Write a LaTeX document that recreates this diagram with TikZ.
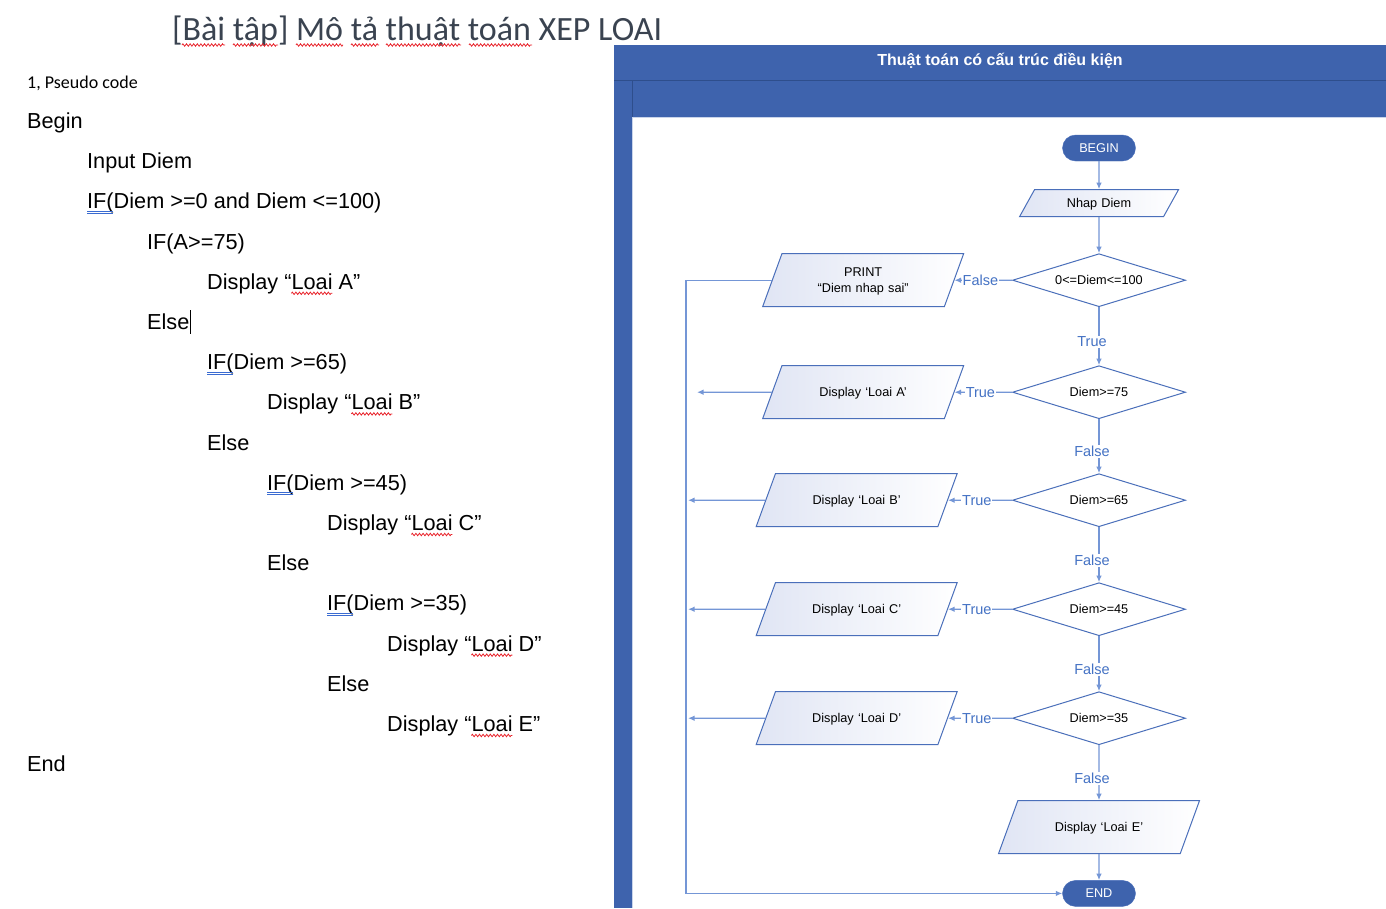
\documentclass[tikz,border=0pt]{standalone}
\usepackage{fontspec}
\setmainfont{Liberation Sans}
\newfontfamily\calibri{Carlito}
\usetikzlibrary{arrows.meta,positioning,shapes.geometric,decorations.pathmorphing}
\definecolor{panel}{HTML}{3E63AD}
\definecolor{panelline}{HTML}{2E4E8C}
\definecolor{edge}{HTML}{4A6FBA}
\definecolor{wire}{HTML}{7496D6}
\definecolor{lblblue}{HTML}{4472C4}
\definecolor{shadeblue}{HTML}{E0E5F4}
\definecolor{titlegray}{HTML}{3A4350}
\definecolor{spellred}{HTML}{E8222A}
\definecolor{grammar}{HTML}{3A6BD1}
\tikzset{
  code/.style={anchor=base west,inner sep=0,font=\fontsize{21.7}{26}\selectfont},
  io/.style={trapezium,trapezium left angle=70,trapezium right angle=110,
    draw=edge,line width=1pt,left color=shadeblue,right color=white,align=center,
    text width=162.4pt,inner xsep=0pt,inner ysep=22pt,text height=9pt,text depth=0pt,
    font=\fontsize{12.7}{16}\selectfont},
  decision/.style={diamond,aspect=3.26,draw=edge,line width=1pt,fill=white,minimum width=173pt,
    minimum height=53pt,inner sep=0,font=\fontsize{12.7}{15}\selectfont},
  term/.style={rectangle,rounded corners=13pt,fill=panel,draw=edge,text=white,
    minimum width=73pt,minimum height=26pt,font=\fontsize{12.7}{15}\selectfont},
  arrow/.style={-{Latex[length=6.5pt,width=5.5pt]},draw=wire,line width=1.3pt},
  lbl/.style={fill=white,inner sep=1pt,text=lblblue,font=\fontsize{14.5}{17}\selectfont},
  spell/.style={draw=spellred,line width=0.8pt,decorate,
    decoration={zigzag,amplitude=1.2pt,segment length=3.6pt}}
}
\begin{document}
\begin{tikzpicture}[x=1pt,y=-1pt]
\useasboundingbox (0,0) rectangle (1386,908);
% page text
\node[anchor=base west,inner sep=0,text=titlegray,font=\calibri\fontsize{34}{40}\selectfont] (title) at (172,40) {[Bài tập] Mô tả thuật toán XEP LOAI};
\foreach \a/\b in {182/225,233/278,296/343,351/379,386/461,469/532} \draw[spell] (\a,45) -- (\b,45);
\node[anchor=base west,inner sep=0,font=\calibri\fontsize{18}{22}\selectfont] (part) at (27,88.6) {1, Pseudo code};
\node[code] (l0) at (27,128.5) {Begin};
\node[code] (l1) at (87,168.7) {Input Diem};
\node[code] (l2) at (87,208.9) {IF(Diem >=0 and Diem <=100)};
\node[code] (l3) at (147,249.1) {IF(A>=75)};
\node[code] (l4) at (207,289.3) {Display “Loai A”};
\node[code] (l5) at (147,329.5) {Else};
\node[code] (l6) at (207,369.7) {IF(Diem >=65)};
\node[code] (l7) at (267,409.9) {Display “Loai B”};
\node[code] (l8) at (207,450.1) {Else};
\node[code] (l9) at (267,490.3) {IF(Diem >=45)};
\node[code] (l10) at (327,530.5) {Display “Loai C”};
\node[code] (l11) at (267,570.7) {Else};
\node[code] (l12) at (327,610.9) {IF(Diem >=35)};
\node[code] (l13) at (387,651.1) {Display “Loai D”};
\node[code] (l14) at (327,691.3) {Else};
\node[code] (l15) at (387,731.5) {Display “Loai E”};
\node[code] (l16) at (27,771.7) {End};
% spelling and grammar marks
\foreach \x/\y in {207/289.3,267/409.9,327/530.5,387/651.1,387/731.5}
  \draw[spell] (\x+84.4,\y+4) -- (\x+125.4,\y+4);
\foreach \x/\y in {87/208.9,207/369.7,267/490.3,327/610.9} {
  \draw[grammar,line width=0.8pt] (\x,\y+2.5) -- ++(26,0);
  \draw[grammar,line width=0.8pt] (\x,\y+4.5) -- ++(26,0);
}
\draw[line width=1pt] (190.5,310) -- (190.5,334);
% swimlane
\fill[panel] (614,45) rectangle (1386,908);
\fill[white] (632,117) rectangle (1386,908);
\draw[panelline,line width=0.8pt] (614,80.5) -- (1386,80.5);
\draw[panelline,line width=0.8pt] (632,80.5) -- (632,908);
\draw[edge!30,line width=1pt] (632.5,908) -- (632.5,117.5) -- (1386,117.5);
\node[text=white,font=\bfseries\fontsize{16}{19}\selectfont] (lane) at (1000,61) {Thuật toán có cấu trúc điều kiện};
% flowchart
\coordinate (rail) at (686,0);
\node[term] (begin) at (1099,148) {BEGIN};
\node[io,trapezium left angle=61,trapezium right angle=119,text width=129pt,inner ysep=9pt,below=28pt of begin] (input) {Nhap Diem};
\node[decision,below=36pt of input] (d100) {0<=Diem<=100};
\node[decision,below=58pt of d100] (d75) {Diem>=75};
\node[decision,below=54pt of d75] (d65) {Diem>=65};
\node[decision,below=55pt of d65] (d45) {Diem>=45};
\node[decision,below=55pt of d45] (d35) {Diem>=35};
\node[io,below=55pt of d35] (loaiE) {Display ‘Loai E’};
\node[term,below=26pt of loaiE] (end) {END};
\node[io,text height=1.05pt,text depth=7.95pt,left=57.5pt of d100] (print) {PRINT\\“Diem nhap sai”};
\node[io,left=57.5pt of d75] (loaiA) {Display ‘Loai A’};
\node[io,left=64pt of d65] (loaiB) {Display ‘Loai B’};
\node[io,left=64pt of d45] (loaiC) {Display ‘Loai C’};
\node[io,left=64pt of d35] (loaiD) {Display ‘Loai D’};
\draw[arrow] (begin) -- (input);
\draw[arrow] (input) -- (d100);
\draw[arrow] (d100) -- node[lbl,pos=0.6,xshift=-7pt]{True} (d75);
\draw[arrow] (d75) -- node[lbl,pos=0.6,xshift=-7pt]{False} (d65);
\draw[arrow] (d65) -- node[lbl,pos=0.6,xshift=-7pt]{False} (d45);
\draw[arrow] (d45) -- node[lbl,pos=0.6,xshift=-7pt]{False} (d35);
\draw[arrow] (d35) -- node[lbl,pos=0.6,xshift=-7pt]{False} (loaiE);
\draw[arrow] (loaiE) -- (end);
\draw[arrow] (d100) -- node[lbl,pos=0.55]{False} (print);
\draw[arrow] (d75) -- node[lbl,pos=0.55]{True} (loaiA);
\draw[arrow] (d65) -- node[lbl,pos=0.55]{True} (loaiB);
\draw[arrow] (d45) -- node[lbl,pos=0.55]{True} (loaiC);
\draw[arrow] (d35) -- node[lbl,pos=0.55]{True} (loaiD);
\draw[arrow] (print.west) -- (print.west -| rail) |- (end.west);
\draw[arrow,shorten >=11pt] (loaiA) -- (loaiA -| rail);
\draw[arrow,shorten >=2pt] (loaiB) -- (loaiB -| rail);
\draw[arrow,shorten >=2pt] (loaiC) -- (loaiC -| rail);
\draw[arrow,shorten >=2pt] (loaiD) -- (loaiD -| rail);
\end{tikzpicture}
\end{document}
